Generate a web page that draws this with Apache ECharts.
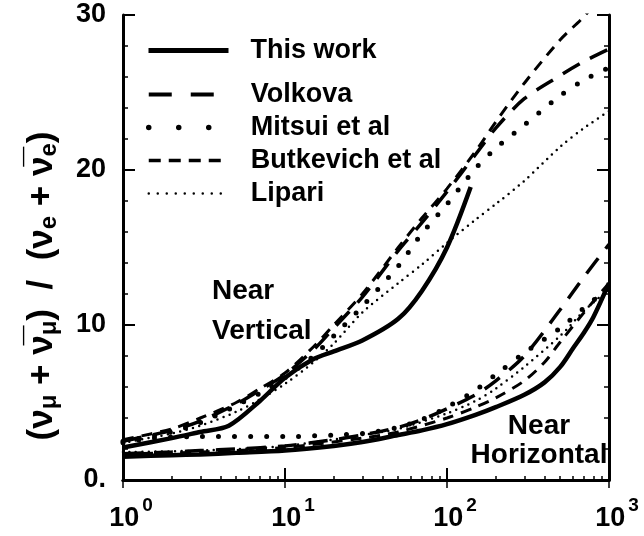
<!DOCTYPE html>
<html>
<head>
<meta charset="utf-8">
<script src="https://cdn.jsdelivr.net/npm/echarts@6/dist/echarts.min.js"></script>
<style>
  html, body { margin: 0; padding: 0; background: #fff; }
  #chart { width: 644px; height: 536px; }
</style>
</head>
<body>
<div id="chart"></div>
<script>
// energies (log axis) and ratio values
var energy = [1, 2, 3, 5, 7, 10, 15, 20, 30, 50, 70, 100, 150, 200, 300, 500, 700, 1000];

// near vertical
var thisWorkVertE = [1, 2, 3, 4.5, 7, 10, 15, 20, 30, 50, 70, 100, 140];
var thisWorkVert  = [2.1, 2.7, 3.1, 3.5, 5.1, 6.6, 7.8, 8.3, 9.0, 10.4, 12.2, 15.0, 18.9];
var volkovaVert   = [2.5, 3.2, 3.8, 4.9, 5.8, 6.8, 8.4, 9.8, 11.8, 14.8, 16.6, 18.6, 21.0, 22.7, 24.6, 26.1, 27.0, 27.8];
var mitsuiVert    = [2.5, 3.1, 3.7, 4.8, 5.6, 6.6, 8.0, 9.3, 11.2, 13.8, 15.9, 17.8, 20.1, 21.4, 22.9, 24.8, 25.8, 26.6];
var butkevichVert = [2.6, 3.3, 4.0, 5.0, 5.9, 6.9, 8.6, 10.0, 12.0, 15.0, 16.9, 18.8, 21.2, 23.1, 25.6, 28.4, 29.9, 31.8];
var lipariVert    = [2.4, 3.0, 3.5, 4.4, 5.2, 6.2, 7.6, 8.8, 10.8, 12.7, 13.9, 15.3, 16.8, 17.8, 19.3, 21.5, 22.7, 23.8];

// near horizontal
var thisWorkHorE = [1, 2, 3, 5, 10, 20, 30, 50, 70, 100, 150, 200, 300, 400, 500, 600, 700, 800, 1000];
var thisWorkHor  = [1.5, 1.6, 1.65, 1.75, 1.9, 2.2, 2.45, 2.9, 3.2, 3.6, 4.2, 4.7, 5.5, 6.3, 7.3, 8.5, 9.5, 10.5, 12.7];
var volkovaHorE  = [1, 2, 3, 5, 10, 20, 30, 50, 70, 100, 150, 200, 300, 500, 700, 1000];
var volkovaHor   = [1.7, 1.8, 1.9, 2.0, 2.2, 2.6, 2.9, 3.4, 3.9, 4.6, 5.5, 6.4, 8.0, 11.0, 13.1, 15.2];
var mitsuiHorE   = [1, 1.5, 3, 10, 20, 30, 50, 70, 100, 150, 200, 300, 500, 700, 1000];
var mitsuiHor    = [2.4, 2.7, 2.8, 2.8, 2.9, 3.0, 3.4, 3.9, 4.7, 5.8, 6.8, 8.2, 9.8, 11.1, 12.4];
var butkevichHorE = [1, 3, 10, 30, 50, 100, 150, 200, 300, 400, 500, 700, 1000];
var butkevichHor  = [1.7, 1.8, 2.1, 2.7, 3.1, 4.0, 4.7, 5.3, 6.4, 7.6, 8.9, 10.8, 12.7];
var lipariHorE   = [1, 3, 10, 30, 50, 100, 150, 200, 300, 500, 700, 1000];
var lipariHor    = [1.8, 1.9, 2.2, 2.9, 3.3, 4.3, 5.1, 5.9, 7.3, 9.3, 10.9, 12.3];

var names = ['This work', 'Volkova', 'Mitsui et al', 'Butkevich et al', 'Lipari'];

function pairs(xs, ys) {
  return ys.map(function (v, i) { return [xs[i], v]; });
}

var styles = {
  'This work':       { width: 4.5, type: 'solid' },
  'Volkova':         { width: 3.5, type: [19, 12] },
  'Mitsui et al':    { width: 5, type: [0, 16], cap: 'round' },
  'Butkevich et al': { width: 3, type: [11, 8] },
  'Lipari':          { width: 2.5, type: [0, 6.5], cap: 'round' }
};
// legend samples are a bit bolder / longer-spaced than the plotted lines
var legendStyles = {
  'This work':       { width: 5, type: 'solid' },
  'Volkova':         { width: 4, type: [23, 19] },
  'Mitsui et al':    { width: 5.5, type: [0, 30], cap: 'round' },
  'Butkevich et al': { width: 3.5, type: [12, 8] },
  'Lipari':          { width: 2.5, type: [0, 9], cap: 'round' }
};

function mk(name, data) {
  var s = styles[name];
  return {
    name: name,
    type: 'line',
    data: data,
    smooth: 0.3,
    symbol: 'none',
    color: '#000',
    lineStyle: { color: '#000', width: s.width, type: s.type, cap: s.cap || 'butt' }
  };
}

function legendItem(name) {
  var s = legendStyles[name];
  return { name: name, lineStyle: { color: '#000', width: s.width, type: s.type, cap: s.cap || 'butt' } };
}

var font = 'Liberation Sans, Arial, sans-serif';
var legendText = { fontFamily: font, fontWeight: 'bold', fontSize: 27, color: '#000', padding: [0, 0, 0, 17] };

var myChart = echarts.init(document.getElementById('chart'));
var option = {
  backgroundColor: '#fff',
  animation: false,
  grid: { left: 123, top: 15, right: 35, bottom: 56, containLabel: false },
  legend: [{
    orient: 'vertical',
    left: 141, top: 32,
    itemWidth: 80, itemHeight: 14,
    itemStyle: { opacity: 0 },
    data: [legendItem(names[0])],
    textStyle: legendText
  }, {
    orient: 'vertical',
    left: 141, top: 76,
    itemWidth: 80, itemHeight: 14, itemGap: 6,
    itemStyle: { opacity: 0 },
    data: names.slice(1).map(legendItem),
    textStyle: legendText
  }],
  xAxis: [{
    type: 'log', min: 1, max: 1000, logBase: 10,
    axisLine: { lineStyle: { color: '#000', width: 3 } },
    axisTick: { inside: true, length: 12, lineStyle: { color: '#000', width: 2 } },
    minorTick: { show: true, splitNumber: 9, length: 4, lineStyle: { color: '#000', width: 1.5 } },
    splitLine: { show: false },
    axisLabel: {
      margin: 16,
      formatter: function (v) { return '{b|10}{s|' + Math.round(Math.log10(v)) + '}'; },
      rich: {
        b: { fontFamily: font, fontWeight: 'bold', fontSize: 27, lineHeight: 27, color: '#000',
             verticalAlign: 'bottom', padding: [0, 0, 0, 16] },
        s: { fontFamily: font, fontWeight: 'bold', fontSize: 19, lineHeight: 36, color: '#000',
             verticalAlign: 'top', padding: [0, 0, 0, 3] }
      }
    }
  }, {
    type: 'log', min: 1, max: 1000, logBase: 10, position: 'top',
    axisLine: { lineStyle: { color: '#000', width: 3 } },
    axisTick: { inside: true, length: 8, lineStyle: { color: '#000', width: 1.5 } },
    axisLabel: { show: false },
    splitLine: { show: false }
  }],
  yAxis: [{
    type: 'value', min: 0, max: 30, interval: 10,
    axisLine: { show: true, lineStyle: { color: '#000', width: 3 } },
    axisTick: { show: true, inside: true, length: 12, lineStyle: { color: '#000', width: 2 } },
    minorTick: { show: true, splitNumber: 5, length: 5, lineStyle: { color: '#000', width: 1.5 } },
    splitLine: { show: false },
    axisLabel: {
      margin: 17,
      fontFamily: font, fontWeight: 'bold', fontSize: 27, color: '#000',
      formatter: function (v) { return v === 0 ? '0.' : String(v); }
    }
  }, {
    type: 'value', min: 0, max: 30, interval: 10, position: 'right',
    axisLine: { show: true, lineStyle: { color: '#000', width: 3 } },
    axisTick: { show: true, inside: true, length: 12, lineStyle: { color: '#000', width: 2 } },
    minorTick: { show: true, splitNumber: 5, length: 5, lineStyle: { color: '#000', width: 1.5 } },
    axisLabel: { show: false },
    splitLine: { show: false }
  }],
  graphic: [{
    type: 'text', x: 42, y: 286, rotation: Math.PI / 2,
    style: {
      text: '(\u03BD{s|\u03BC} + \u03BD\u0305{s|\u03BC})  /  (\u03BD{s|e} + \u03BD\u0305{s|e})',
      font: 'bold 35px ' + font, fill: '#000', align: 'center', verticalAlign: 'middle',
      rich: { s: { font: 'bold 24px ' + font, fill: '#000', padding: [14, 0, 0, 0] } }
    }
  }, {
    type: 'text', x: 212, y: 271,
    style: { text: 'Near\nVertical', font: 'bold 28px ' + font, fill: '#000', lineHeight: 40 }
  }, {
    type: 'text', x: 539, y: 412,
    style: { text: 'Near\nHorizontal', font: 'bold 28px ' + font, fill: '#000', lineHeight: 29, align: 'center' }
  }],
  series: [
    mk('This work', pairs(thisWorkVertE, thisWorkVert)),
    mk('Volkova', pairs(energy, volkovaVert)),
    mk('Mitsui et al', pairs(energy, mitsuiVert)),
    mk('Butkevich et al', pairs(energy, butkevichVert)),
    mk('Lipari', pairs(energy, lipariVert)),
    mk('This work', pairs(thisWorkHorE, thisWorkHor)),
    mk('Volkova', pairs(volkovaHorE, volkovaHor)),
    mk('Mitsui et al', pairs(mitsuiHorE, mitsuiHor)),
    mk('Butkevich et al', pairs(butkevichHorE, butkevichHor)),
    mk('Lipari', pairs(lipariHorE, lipariHor))
  ]
};
myChart.setOption(option);
</script>
</body>
</html>
